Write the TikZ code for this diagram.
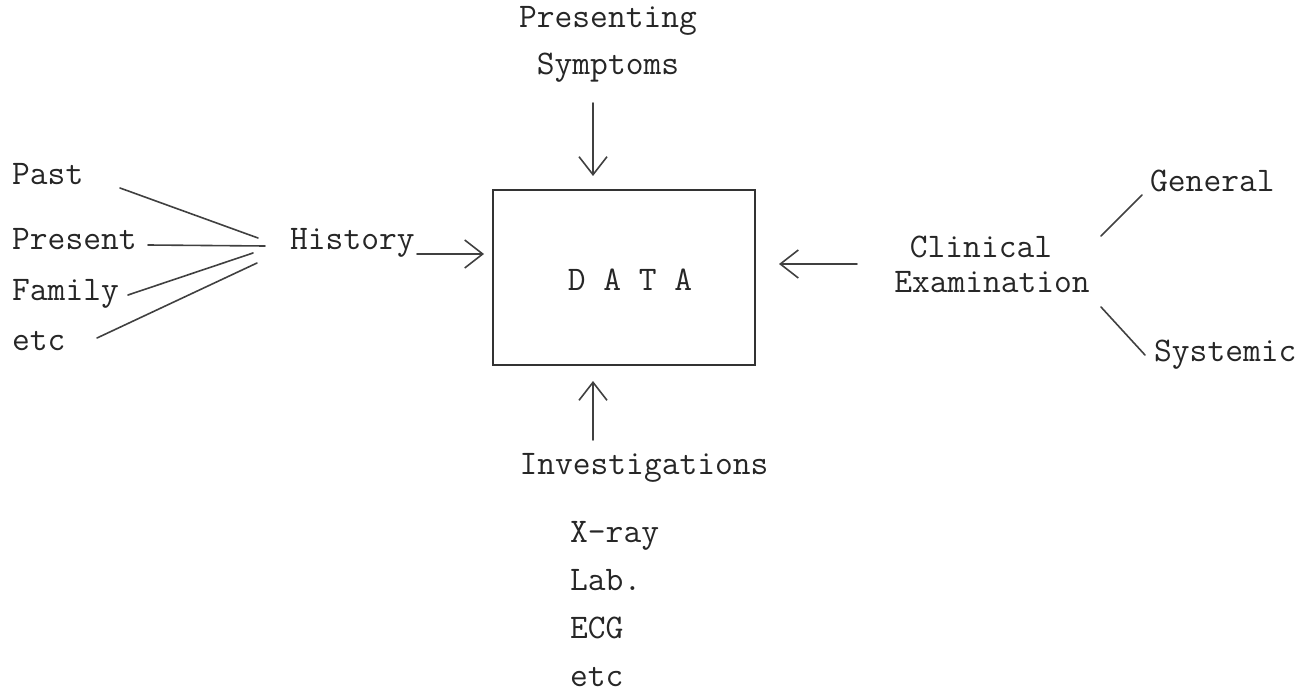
\documentclass[tikz,border=0pt]{standalone}
\usetikzlibrary{arrows.meta}
\begin{document}
\begin{tikzpicture}[x=1pt,y=-1pt,
  txt/.style={font=\ttfamily\fontsize{34.5}{40}\selectfont, inner sep=0pt, anchor=base west, text=black!85},
  ctxt/.style={txt, anchor=base},
  ln/.style={line width=1.6pt, draw=black!75, line cap=round},
  arr/.style={ln, -{Straight Barb[length=18pt,width=28pt,line width=1.6pt]}},
  databox/.style={draw=black!80, line width=1.8pt, minimum width=262pt, minimum height=175pt, inner sep=0pt}]
\useasboundingbox (0,0) rectangle (1304,695);

% central box
\node[databox] (box) at (624,277.5) {};
\node[ctxt] (data) at (630,290) {D A T A};

% top
\node[ctxt] (pres) at (608,28) {Presenting};
\node[ctxt] (sympt) at (608,75) {Symptoms};
\coordinate (symptend) at (593,103);
\draw[arr] (symptend) -- (593,176) coordinate (symptip);

% left
\node[txt] (past) at (12,185) {Past};
\node[txt] (present) at (12,250) {Present};
\node[txt] (family) at (12,300) {Family};
\node[txt] (etcl) at (12,350) {etc};
\node[txt] (history) at (290,250) {History};

\coordinate (pastS) at (120,188);
\coordinate (pastE) at (258,238);
\coordinate (presS) at (148,245);
\coordinate (presE) at (265,246);
\coordinate (famS) at (128,295);
\coordinate (famE) at (253,253);
\coordinate (etcS) at (97,338);
\coordinate (etcE) at (257,263);
\draw[ln] (pastS) -- (pastE);
\draw[ln] (presS) -- (presE);
\draw[ln] (famS) -- (famE);
\draw[ln] (etcS) -- (etcE);

\coordinate (histS) at (417,254);
\draw[arr] (histS) -- (484,254) coordinate (histtip);

% right
\node[ctxt] (clin) at (981,258) {Clinical};
\node[ctxt] (exam) at (992,292) {Examination};
\coordinate (clinS) at (857,264);
\draw[arr] (clinS) -- (779,264) coordinate (clintip);

\node[txt] (general) at (1150,192) {General};
\node[txt] (systemic) at (1154,361) {Systemic};
\coordinate (genS) at (1101,236);
\coordinate (genE) at (1142,195);
\coordinate (sysS) at (1101,307);
\coordinate (sysE) at (1145,355);
\draw[ln] (genS) -- (genE);
\draw[ln] (sysS) -- (sysE);

% bottom
\node[ctxt] (inv) at (644,474) {Investigations};
\coordinate (invS) at (593,440);
\draw[arr] (invS) -- (593,381) coordinate (invtip);

\node[txt] (xray) at (570,542) {X-ray};
\node[txt] (lab) at (570,590) {Lab.};
\node[txt] (ecg) at (570,638) {ECG};
\node[txt] (etcb) at (570,686) {etc};
\end{tikzpicture}
\end{document}
